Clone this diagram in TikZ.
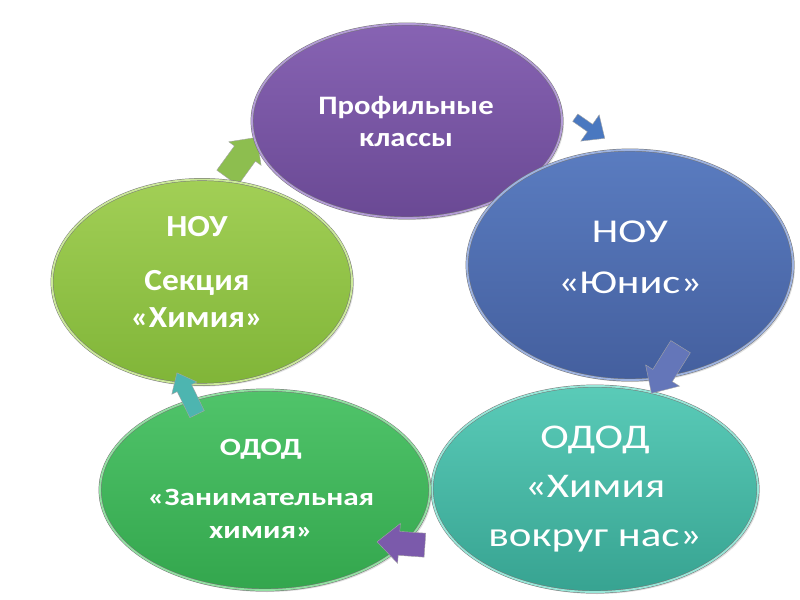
\documentclass[tikz,border=0pt]{standalone}
\usepackage{fontspec}
\setmainfont{Carlito}
\newfontfamily\fpro[FakeStretch=1.15]{Carlito}
\newfontfamily\fyou[FakeStretch=1.27]{Carlito}
\newfontfamily\fhim[FakeStretch=1.24]{Carlito}
\newfontfamily\fzan[FakeStretch=1.26]{Carlito}
\newfontfamily\fsek[FakeStretch=1.09]{Carlito}
\usetikzlibrary{shapes.geometric,shadows}
\definecolor{purT}{HTML}{8763B3}\definecolor{purB}{HTML}{6A4994}\definecolor{purL}{HTML}{B39CD6}
\definecolor{bluT}{HTML}{5A7CC0}\definecolor{bluB}{HTML}{445F9E}\definecolor{bluL}{HTML}{9DB2E0}
\definecolor{teaT}{HTML}{5ACBB8}\definecolor{teaB}{HTML}{37A391}\definecolor{teaL}{HTML}{98E6D8}
\definecolor{greT}{HTML}{50C46A}\definecolor{greB}{HTML}{33A64D}\definecolor{greL}{HTML}{92E0A2}
\definecolor{limT}{HTML}{A2CF56}\definecolor{limB}{HTML}{80B538}\definecolor{limL}{HTML}{CBE89A}
\definecolor{arA}{HTML}{8DBE4F}\definecolor{arB}{HTML}{4A78C0}\definecolor{arC}{HTML}{6476B9}
\definecolor{arD}{HTML}{7B5AAB}\definecolor{arE}{HTML}{4DB5B0}
\tikzset{
  oval/.style={ellipse, inner sep=0pt, draw=black!55, double distance=1.4pt, line width=0.35pt,
    drop shadow={opacity=0.25, shadow xshift=1.5pt, shadow yshift=-1.5pt}},
  txt/.style={text=white, align=center, inner sep=0pt},
  arrowfill/.style={draw=black!35, line width=0.3pt, line join=miter},
}
% center x, center y, angle, length, head width, shaft width, head length, colour
\newcommand\blockarrow[8]{%
  \begin{scope}[shift={(#1,#2)}, rotate=#3]
    \fill[arrowfill, fill=#8] ({-(#4)/2},{-(#6)/2}) -- ({(#4)/2-(#7)},{-(#6)/2}) -- ({(#4)/2-(#7)},{-(#5)/2})
      -- ({(#4)/2},0) -- ({(#4)/2-(#7)},{(#5)/2}) -- ({(#4)/2-(#7)},{(#6)/2}) -- ({-(#4)/2},{(#6)/2}) -- cycle;
  \end{scope}}
\begin{document}
\begin{tikzpicture}[x=0.75pt,y=-0.75pt]
\useasboundingbox (0,0) rectangle (800,600);
\fill[white] (0,0) rectangle (800,600);
% arrow under ellipses
\blockarrow{242}{157.6}{54}{50}{40}{26}{20}{arA}
% ellipses
\node[oval, top color=purT, bottom color=purB, double=purL, minimum width=310*0.75pt, minimum height=194*0.75pt] (pro) at (407,121) {};
\node[oval, top color=bluT, bottom color=bluB, double=bluL, minimum width=326*0.75pt, minimum height=230*0.75pt] (you) at (630,265) {};
\node[oval, top color=teaT, bottom color=teaB, double=teaL, minimum width=326*0.75pt, minimum height=206*0.75pt] (him) at (595,489) {};
\node[oval, top color=greT, bottom color=greB, double=greL, minimum width=330*0.75pt, minimum height=200*0.75pt] (zan) at (265,490) {};
\node[oval, top color=limT, bottom color=limB, double=limL, minimum width=300*0.75pt, minimum height=205*0.75pt] (sek) at (202,282) {};
% arrows over
\blockarrow{590}{128}{-35}{36}{32}{9}{18}{arB}
\blockarrow{666}{370}{-122}{55}{40}{23}{21}{arC}
\blockarrow{401}{543.5}{176}{48}{40}{24}{22}{arD}
\blockarrow{187}{393.5}{116}{46}{28}{16}{17}{arE}
% texts
\node[txt, font=\fpro\bfseries\fontsize{20}{24}\selectfont] (tpro) at (406,121) {Профильные\\классы};
\node[txt, font=\fyou\fontsize{25}{38}\selectfont] (tyou) at (630,257) {НОУ\\«Юнис»};
\node[txt, font=\fhim\fontsize{26}{37}\selectfont] (thim) at (595,489) {ОДОД\\«Химия\\вокруг нас»};
\node[txt, font=\fzan\bfseries\fontsize{18.6}{25}\selectfont] (tzan) at (261,489) {ОДОД\\[12pt]«Занимательная\\химия»};
\node[txt, font=\fsek\bfseries\fontsize{23}{28}\selectfont] (tsek) at (197,272) {НОУ\\[12pt]Секция\\«Химия»};
\end{tikzpicture}
\end{document}
